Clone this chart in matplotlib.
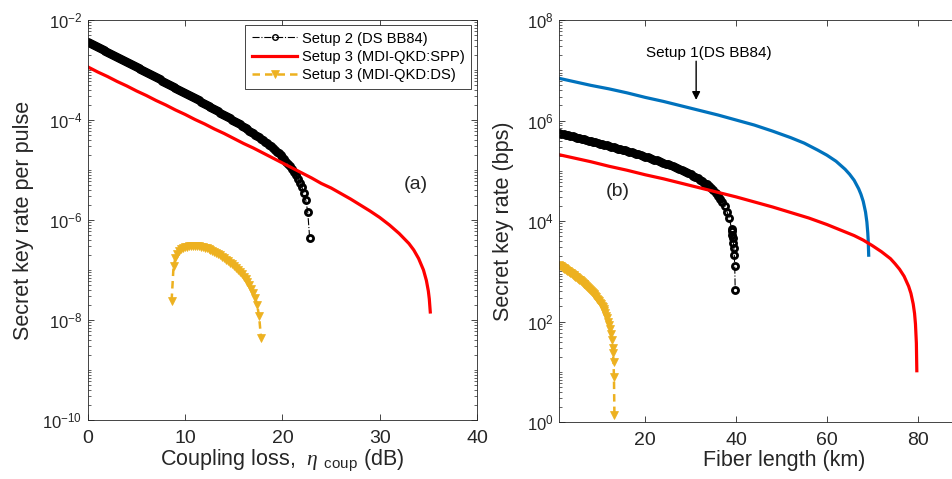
import numpy as np
import matplotlib
matplotlib.use("Agg")
import matplotlib.pyplot as plt
from matplotlib.ticker import LogLocator, NullFormatter

plt.rcParams.update({
    "font.family": ["Liberation Sans", "DejaVu Sans"],
    "mathtext.fontset": "custom",
    "mathtext.rm": "Liberation Sans",
    "mathtext.it": "Liberation Serif:italic",
    "mathtext.bf": "Liberation Sans:bold",
    "mathtext.default": "regular",
})

# ---------------- (a) key rate per pulse vs coupling loss (dB) ----------------
# values are log10 of the secret key rate per pulse
setup2_loss = np.arange(0, 229, 2) / 10          # 0 .. 22.8 dB
setup2_log = [
    -2.440, -2.460, -2.480, -2.501, -2.521, -2.541, -2.561, -2.581, -2.601, -2.621,
    -2.642, -2.662, -2.682, -2.702, -2.722, -2.742, -2.763, -2.783, -2.803, -2.823,
    -2.844, -2.864, -2.884, -2.904, -2.925, -2.945, -2.965, -2.986, -3.006, -3.027,
    -3.047, -3.067, -3.088, -3.108, -3.129, -3.149, -3.170, -3.190, -3.211, -3.232,
    -3.252, -3.273, -3.294, -3.314, -3.335, -3.356, -3.377, -3.398, -3.419, -3.440,
    -3.461, -3.482, -3.503, -3.524, -3.545, -3.567, -3.588, -3.610, -3.631, -3.653,
    -3.674, -3.696, -3.718, -3.740, -3.762, -3.784, -3.807, -3.830, -3.852, -3.875,
    -3.897, -3.921, -3.944, -3.967, -3.991, -4.014, -4.038, -4.063, -4.087, -4.112,
    -4.136, -4.162, -4.188, -4.214, -4.239, -4.265, -4.292, -4.320, -4.348, -4.376,
    -4.405, -4.435, -4.466, -4.497, -4.529, -4.562, -4.596, -4.631, -4.668, -4.706,
    -4.745, -4.787, -4.831, -4.877, -4.926, -4.980, -5.037, -5.101, -5.171, -5.251,
    -5.345, -5.458, -5.602, -5.840, -6.370,
]

spp_loss = [0, 1, 2, 3, 4, 5, 6, 7, 8, 9, 10, 11, 12, 13, 14, 15, 16, 17, 18,
            19, 20, 21, 22, 23, 24, 25, 26, 27, 28, 29, 30, 31, 32, 33,
            33.5, 34, 34.5, 34.8, 35.0, 35.1, 35.2]
spp_log = [-2.94, -3.04, -3.13, -3.23, -3.32, -3.42, -3.51, -3.61, -3.70, -3.80,
           -3.89, -3.99, -4.08, -4.18, -4.27, -4.37, -4.47, -4.56, -4.66, -4.76,
           -4.86, -4.96, -5.06, -5.16, -5.27, -5.36, -5.47, -5.58, -5.70, -5.82,
           -5.95, -6.10, -6.27, -6.47,
           -6.60, -6.77, -7.00, -7.21, -7.42, -7.58, -7.84]

ds_loss = np.arange(86, 179, 2) / 10              # 8.6 .. 17.8 dB
ds_log = [
    -7.62, -6.93, -6.76, -6.68, -6.63, -6.59, -6.57, -6.55, -6.54, -6.53,
    -6.52, -6.52, -6.52, -6.52, -6.53, -6.54, -6.55, -6.56, -6.57, -6.59,
    -6.61, -6.63, -6.65, -6.67, -6.69, -6.71, -6.74, -6.77, -6.80, -6.83,
    -6.86, -6.89, -6.92, -6.96, -7.00, -7.04, -7.09, -7.14, -7.19, -7.25,
    -7.31, -7.38, -7.46, -7.56, -7.70, -7.93, -8.37,
]

# ---------------- (b) key rate (bps) vs fiber length (km) ----------------
# values are log10 of the secret key rate in bits per second
setup1_km = [1, 4, 8, 12, 16, 20, 24, 28, 32, 36, 40, 44, 48, 52, 55, 58, 60,
             62, 64, 65, 66, 67, 67.5, 68, 68.5, 68.8, 69.0, 69.1, 69.2]
setup1_log = [6.84, 6.78, 6.70, 6.63, 6.55, 6.46, 6.38, 6.29, 6.20, 6.11,
              6.01, 5.91, 5.79, 5.66, 5.55, 5.41, 5.31, 5.19, 5.03, 4.93,
              4.81, 4.64, 4.53, 4.39, 4.18, 3.98, 3.76, 3.60, 3.32]

setup2_km = np.r_[np.arange(2, 79) / 2, np.arange(391, 399) / 10]
setup2_bps_log = [
    5.752, 5.741, 5.729, 5.718, 5.706, 5.695, 5.683, 5.672, 5.660, 5.648,
    5.637, 5.625, 5.613, 5.602, 5.590, 5.578, 5.566, 5.554, 5.542, 5.530,
    5.518, 5.505, 5.493, 5.481, 5.468, 5.456, 5.443, 5.430, 5.418, 5.405,
    5.392, 5.378, 5.365, 5.352, 5.338, 5.325, 5.311, 5.297, 5.283, 5.268,
    5.254, 5.239, 5.224, 5.208, 5.193, 5.177, 5.161, 5.144, 5.127, 5.109,
    5.092, 5.073, 5.055, 5.035, 5.015, 4.994, 4.973, 4.951, 4.928, 4.904,
    4.878, 4.852, 4.823, 4.794, 4.762, 4.728, 4.691, 4.652, 4.608, 4.561,
    4.506, 4.446, 4.375, 4.292, 4.187, 4.051, 3.850,
    3.80, 3.73, 3.66, 3.57, 3.46, 3.32, 3.10, 2.63,
]

spp_km = [1, 4, 8, 12, 16, 20, 24, 28, 32, 36, 40, 44, 48, 52, 56, 60,
          63, 66, 68, 70, 72, 74, 75, 76, 77, 78, 78.5, 79, 79.3, 79.5, 79.7, 79.8]
spp_bps_log = [5.32, 5.26, 5.18, 5.09, 5.01, 4.92, 4.84, 4.75, 4.66, 4.57,
               4.48, 4.38, 4.28, 4.17, 4.06, 3.93,
               3.82, 3.71, 3.62, 3.51, 3.39, 3.25, 3.15, 3.04, 2.90, 2.70,
               2.56, 2.35, 2.16, 1.95, 1.57, 1.02]

ds_km = np.r_[np.arange(10, 129, 2) / 10, np.arange(129, 133) / 10]
ds_bps_log = [
    3.12, 3.11, 3.10, 3.08, 3.07, 3.06, 3.05, 3.04, 3.02, 3.01,
    3.00, 2.98, 2.97, 2.96, 2.94, 2.93, 2.92, 2.90, 2.89, 2.88,
    2.86, 2.85, 2.83, 2.82, 2.80, 2.79, 2.77, 2.75, 2.74, 2.72,
    2.70, 2.69, 2.67, 2.65, 2.63, 2.61, 2.59, 2.57, 2.55, 2.53,
    2.50, 2.48, 2.45, 2.43, 2.40, 2.37, 2.34, 2.31, 2.28, 2.24,
    2.20, 2.16, 2.11, 2.06, 2.00, 1.93, 1.85, 1.76, 1.64, 1.48,
    1.37, 1.20, 0.90, 0.14,
]

BLACK = "#000000"
RED = "#FF0000"
GOLD = "#EDB120"
BLUE = "#0072BD"
AXC = "#262626"


def pw(v):
    return 10.0 ** np.asarray(v, dtype=float)


fig = plt.figure(figsize=(9.52, 4.79), dpi=100)
fig.patch.set_facecolor("white")
ax1 = fig.add_axes([0.0924, 0.1232, 0.4086, 0.8351])
ax2 = fig.add_axes([0.5872, 0.1190, 0.4722, 0.8392])

black_kw = dict(color=BLACK, ls="-.", lw=0.8, marker="o", ms=4.4, mfc="none",
                mec=BLACK, mew=2.0)
gold_kw = dict(color=GOLD, ls=(0, (3, 2)), lw=1.8, marker="v", ms=5.5,
               mfc=GOLD, mec=GOLD, mew=0.5)

# panel (a)
ax1.plot(setup2_loss, pw(setup2_log), label="Setup 2 (DS BB84)", **black_kw)
ax1.plot(spp_loss, pw(spp_log), color=RED, lw=2.3,
         label="Setup 3 (MDI-QKD:SPP)")
ax1.plot(ds_loss, pw(ds_log), label="Setup 3 (MDI-QKD:DS)", **gold_kw)

# panel (b)
ax2.plot(setup1_km, pw(setup1_log), color=BLUE, lw=2.3)
ax2.plot(setup2_km, pw(setup2_bps_log), **black_kw)
ax2.plot(spp_km, pw(spp_bps_log), color=RED, lw=2.3)
ax2.plot(ds_km, pw(ds_bps_log), **gold_kw)

for ax in (ax1, ax2):
    ax.set_yscale("log")
    ax.tick_params(which="both", direction="in", top=True, right=True,
                   colors=AXC)
    ax.tick_params(which="major", length=4.5, width=0.6)
    ax.tick_params(which="minor", length=2.5, width=0.5)
    ax.tick_params(axis="x", pad=7, labelsize=14)
    ax.tick_params(axis="y", pad=4, labelsize=12)
    ax.yaxis.set_minor_locator(LogLocator(base=10, subs=np.arange(1, 10),
                                          numticks=100))
    ax.yaxis.set_minor_formatter(NullFormatter())
    for s in ax.spines.values():
        s.set_linewidth(0.6)
        s.set_color(AXC)

ax1.set_xlim(0, 40)
ax1.set_ylim(1e-10, 1e-2)
ax1.set_xticks([0, 10, 20, 30, 40])
ax1.set_yticks([1e-10, 1e-8, 1e-6, 1e-4, 1e-2])
ax1.set_xlabel(r"Coupling loss,  $\mathit{\eta}$ $_{\mathrm{coup}}$ (dB)",
               fontsize=15.5, color=AXC, labelpad=1)
ax1.set_ylabel("Secret key rate per pulse", fontsize=15.5, color=AXC,
               labelpad=6)
ax1.text(33.7, 10 ** -5.3, "(a)", fontsize=14, ha="center", va="center",
         color=AXC)
leg = ax1.legend(loc="upper right", bbox_to_anchor=(0.985, 0.9875),
                 borderaxespad=0, fontsize=10.6, handlelength=3.1, numpoints=1,
                 fancybox=False, framealpha=1, edgecolor=AXC, borderpad=0.45,
                 labelspacing=0.3, handletextpad=0.3)
leg.get_frame().set_linewidth(0.6)
# keep the legend's marker glyph thin like the plotted open circles at the tail
leg.legend_handles[0].set_markeredgewidth(1.0)
leg.legend_handles[0].set_markersize(4.0)

ax2.set_xlim(1, 100)
ax2.set_ylim(1e0, 1e8)
ax2.set_xticks([20, 40, 60, 80])
ax2.set_yticks([1e0, 1e2, 1e4, 1e6, 1e8])
ax2.set_xlabel("Fiber length (km)", fontsize=15.5, color=AXC, labelpad=1)
ax2.set_ylabel("Secret key rate (bps)", fontsize=15.5, color=AXC, labelpad=9)
ax2.text(13.9, 10 ** 4.58, "(b)", fontsize=14, ha="center", va="center",
         color=AXC)
ax2.text(33.9, 10 ** 7.34, "Setup 1(DS BB84)", fontsize=11, ha="center",
         va="center", color=BLACK)
ax2.annotate("", xy=(31.2, 10 ** 6.41), xytext=(31.2, 10 ** 7.18),
             arrowprops=dict(arrowstyle="-|>", color=BLACK, lw=1,
                             mutation_scale=12, shrinkA=0, shrinkB=0))

fig.savefig("out.png", dpi=100)
